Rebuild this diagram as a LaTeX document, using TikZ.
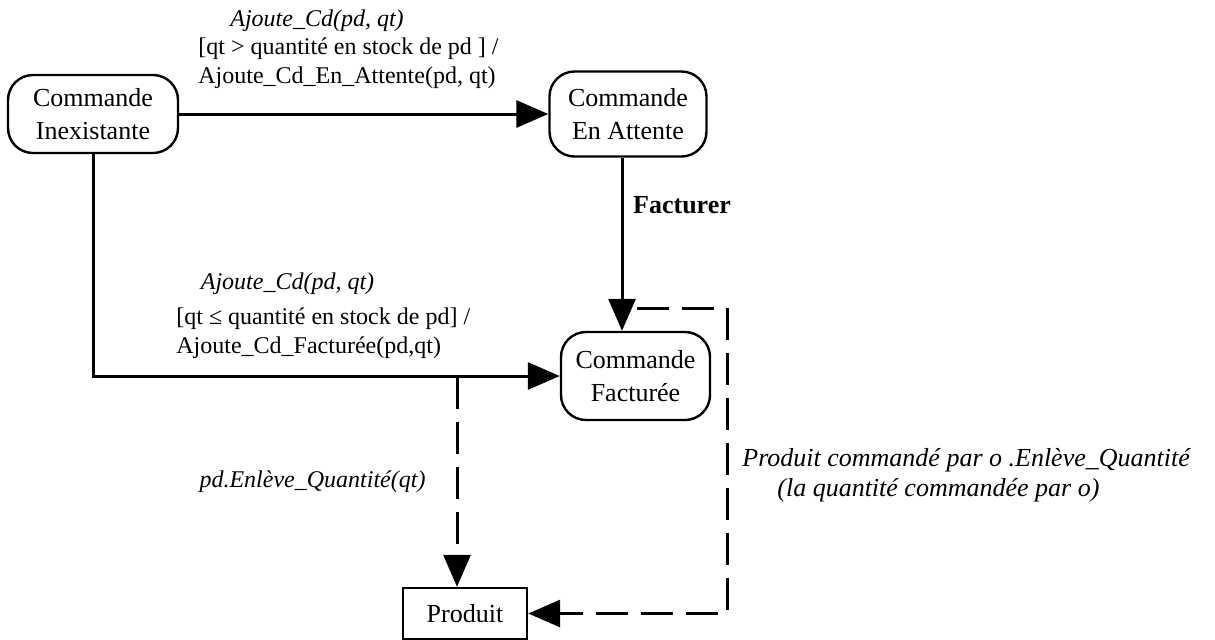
\documentclass[tikz,border=0pt]{standalone}
\usepackage{fontspec}
\setmainfont{Liberation Serif}
\usetikzlibrary{arrows.meta}

\begin{document}
\begin{tikzpicture}[x=0.5pt,y=-0.5pt,
    etat/.style={draw,line width=1.2pt,rounded corners=12.5pt,align=center,
      inner sep=2pt,font=\fontsize{13}{16.5}\selectfont},
    classe/.style={draw,line width=1.2pt,inner sep=2pt,
      font=\fontsize{13}{16.5}\selectfont},
    evt/.style={font=\fontsize{12}{15}\selectfont\itshape,inner sep=0pt},
    garde/.style={font=\fontsize{12}{14.5}\selectfont,align=left,anchor=west,inner sep=0pt},
    fleche/.style={line width=1.5pt,-{Triangle[length=16pt,width=13.5pt]}},
    dep/.style={fleche,dash pattern=on 16pt off 6.5pt}]
  \useasboundingbox (0,0) rectangle (1215,639);

  % etats de la commande
  \node[etat,minimum width=85pt,minimum height=39pt] (inex) at (93,114)
    {Commande\\Inexistante};
  \node[etat,minimum width=78.5pt,minimum height=42.5pt] (att) at (628,114)
    {Commande\\En Attente};
  \node[etat,minimum width=74.5pt,minimum height=44pt] (fact) at (635.5,376)
    {Commande\\Facturée};
  \node[classe,minimum width=62pt,minimum height=25.5pt] (prod) at (465,613.5)
    {Produit};

  % transitions
  \draw[fleche] (inex.east) -- (inex.east -| att.west);
  \draw[fleche] (inex.south) -- (inex.south |- fact.west) -- (fact.west);
  \draw[fleche] ([xshift=-3pt]att.south) -- ([xshift=-3pt]att.south |- fact.north);

  % envois de message vers le produit
  \coordinate (split) at (457,377);
  \coordinate (depart) at (637,308);
  \coordinate (coin) at (727,308);
  \draw[dep] (split) -- (split |- prod.north);
  \draw[dep] (depart) -- (coin) -- (coin |- prod.east) -- (prod.east);

  % etiquettes
  \node[evt] (evtatt) at (317,21) {Ajoute\_Cd(pd, qt)};
  \node[garde] (gardatt) at (198,63.5)
    {[qt > quantité en stock de pd ] /\\Ajoute\_Cd\_En\_Attente(pd, qt)};
  \node[evt] (evtfact) at (287.5,284) {Ajoute\_Cd(pd, qt)};
  \node[garde,align=left] (gardfact) at (176,333)
    {[qt ≤ quantité en stock de pd] /\\Ajoute\_Cd\_Facturée(pd,qt)};
  \node[font=\fontsize{13}{16}\selectfont\bfseries,inner sep=0pt] (facturer) at (682,205)
    {Facturer};
  \node[evt] (enleve) at (312.5,482) {pd.Enlève\_Quantité(qt)};
  \node[evt,font=\fontsize{13}{15}\selectfont\itshape,align=left,anchor=west] (enlevecd)
    at (742,475)
    {Produit commandé par o .Enlève\_Quantité\\
     \hspace*{17.5pt}(la quantité commandée par o)};
\end{tikzpicture}
\end{document}
